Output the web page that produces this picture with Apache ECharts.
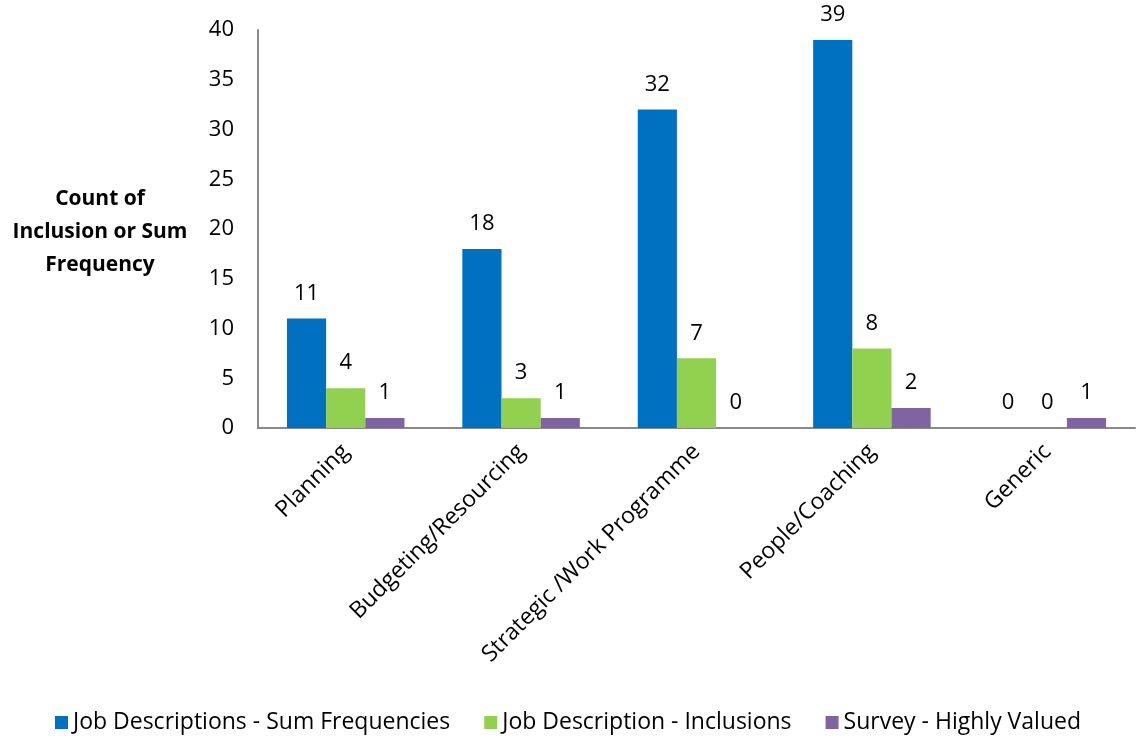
<!DOCTYPE html>
<html>
<head>
<meta charset="utf-8">
<script src="https://cdn.jsdelivr.net/npm/echarts@6/dist/echarts.min.js"></script>
<style>html,body{margin:0;padding:0;background:#fff}#c{width:1136px;height:740px}</style>
</head>
<body>
<div id="c"></div>
<script>
const categories = ["Planning", "Budgeting/Resourcing", "Strategic /Work Programme", "People/Coaching", "Generic"];
const sumFrequencies = [11, 18, 32, 39, 0];
const inclusions = [4, 3, 7, 8, 0];
const highlyValued = [1, 1, 0, 2, 1];
const seriesNames = ["Job Descriptions - Sum Frequencies", "Job Description - Inclusions", "Survey - Highly Valued"];
const colors = ["#0070C0", "#92D050", "#8064A2"];
const FONT = "Open Sans";

const chart = echarts.init(document.getElementById('c'));
const lbl = {show: true, position: 'top', distance: 14, fontSize: 22, color: '#000', fontFamily: FONT};
const mk = (name, data, color) => ({
  name, type: 'bar', data, barGap: '0%', barCategoryGap: '33%',
  itemStyle: {color}, label: lbl
});
chart.setOption({
  animation: false,
  textStyle: {fontFamily: FONT},
  grid: {left: 258, right: 1, top: 30, bottom: 312, containLabel: false},
  legend: {
    bottom: 1, left: 'center', itemWidth: 13, itemHeight: 13, itemGap: 34, itemTextGap: 5, icon: 'rect',
    textStyle: {fontSize: 23, color: '#000', fontFamily: FONT},
    data: seriesNames
  },
  graphic: [{
    type: 'text', x: 100, y: 183,
    style: {text: 'Count of\nInclusion or Sum\nFrequency', fontSize: 21, fontWeight: 'bold',
      fontFamily: FONT, fill: '#000', align: 'center', verticalAlign: 'top', lineHeight: 33}
  }],
  xAxis: {
    type: 'category', data: categories,
    axisLine: {lineStyle: {color: '#898989', width: 2}},
    axisTick: {show: false},
    axisLabel: {rotate: 45, fontSize: 23, color: '#000', margin: 20, fontFamily: FONT, interval: 0}
  },
  yAxis: {
    type: 'value', min: 0, max: 40, interval: 5,
    axisLine: {show: true, lineStyle: {color: '#898989', width: 2}},
    axisTick: {show: false},
    splitLine: {show: false},
    axisLabel: {fontSize: 22, color: '#000', margin: 24, fontFamily: FONT}
  },
  series: [
    mk(seriesNames[0], sumFrequencies, colors[0]),
    mk(seriesNames[1], inclusions, colors[1]),
    mk(seriesNames[2], highlyValued, colors[2])
  ]
});
</script>
</body>
</html>
